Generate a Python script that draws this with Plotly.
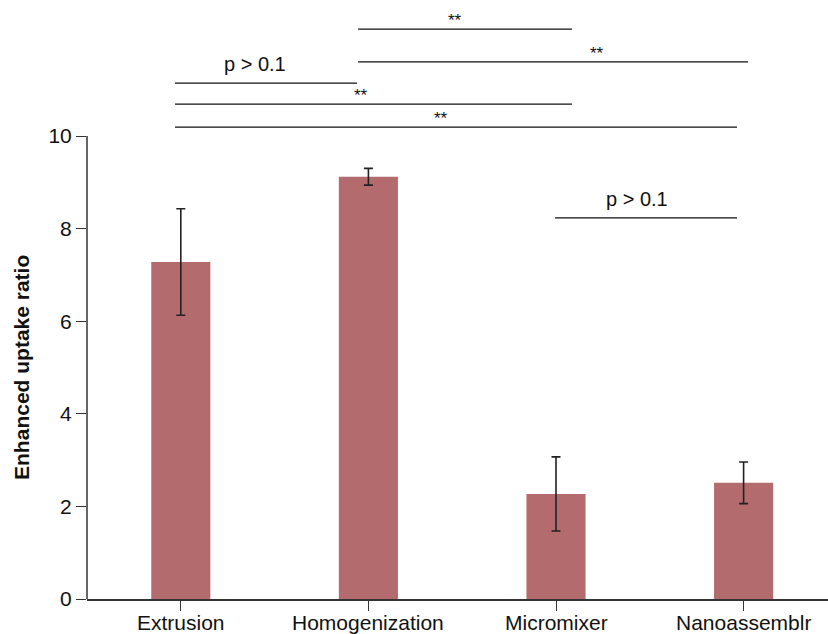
import plotly.graph_objects as go

# Mean enhanced uptake ratio per preparation method, with error
methods = ["Extrusion", "Homogenization", "Micromixer", "Nanoassemblr"]
uptake_ratio = [7.28, 9.12, 2.27, 2.51]
uptake_error = [1.15, 0.18, 0.80, 0.45]

# Pairwise significance comparisons: (x start, x end, level, label)
comparisons = [
    (0.945, 2.085, 12.31, "**"),
    (0.945, 3.024, 11.60, "**"),
    (-0.031, 0.939, 11.14, "p > 0.1"),
    (-0.031, 2.085, 10.69, "**"),
    (-0.031, 2.965, 10.19, "**"),
    (1.995, 2.965, 8.23, "p > 0.1"),
]
# label x positions along each comparison line
label_x = [1.461, 2.218, 0.395, 0.961, 1.387, 2.432]

y_ticks = [0, 2, 4, 6, 8, 10]

FONT = "Liberation Sans, Arial, Helvetica, sans-serif"
BAR_COLOR = "rgb(179,107,110)"
AXIS_COLOR = "#333333"

W, H = 828, 634
M_LEFT, M_BOTTOM = 87, 35
plot_h = H - M_BOTTOM
px_per_unit = 46.3
y_top = plot_h / px_per_unit

fig = go.Figure()

fig.add_trace(go.Bar(
    x=list(range(len(methods))),
    y=uptake_ratio,
    width=0.315,
    marker=dict(color=BAR_COLOR, line=dict(width=0)),
    error_y=dict(type="data", array=uptake_error, visible=True,
                 color="#222222", thickness=1.6, width=4.5),
    showlegend=False,
))

annotations = []
for (x0, x1, level, label), lx in zip(comparisons, label_x):
    fig.add_trace(go.Scatter(
        x=[x0, x1], y=[level, level], mode="lines",
        line=dict(color="#111111", width=1.3),
        hoverinfo="skip", showlegend=False, cliponaxis=False,
    ))
    is_star = label.startswith("*")
    annotations.append(dict(
        x=lx, y=level, text=label, showarrow=False,
        xref="x", yref="y", yanchor="bottom",
        yshift=-3 if is_star else 6,
        font=dict(family=FONT, size=17 if is_star else 20, color="#111111"),
    ))

# category labels under the x axis, set close to the tick marks
for i, name in enumerate(methods):
    annotations.append(dict(
        x=i, y=0, xref="x", yref="paper", text=name, showarrow=False,
        xanchor="center", yanchor="top", yshift=-10,
        font=dict(family=FONT, size=21, color="#111111"),
    ))

# y-axis title
annotations.append(dict(
    text="<b>Enhanced uptake ratio</b>", textangle=-90, showarrow=False,
    xref="paper", x=(22 - M_LEFT) / (W - M_LEFT), xanchor="center",
    yref="y", y=4.99, yanchor="middle",
    font=dict(family=FONT, size=21, color="#111111"),
))

# y-axis line only spanning the tick range
shapes = [dict(type="line", xref="paper", yref="y", x0=0, x1=0, y0=0, y1=10,
               line=dict(color=AXIS_COLOR, width=1.5))]

fig.update_layout(
    width=W, height=H,
    margin=dict(l=M_LEFT, r=0, t=0, b=M_BOTTOM, pad=0, autoexpand=False),
    paper_bgcolor="white", plot_bgcolor="white",
    font=dict(family=FONT, size=20, color="#111111"),
    annotations=annotations, shapes=shapes,
    xaxis=dict(
        range=[-0.5, (W - M_LEFT) / 187.6 - 0.5],
        tickmode="array", tickvals=list(range(len(methods))),
        showticklabels=False,
        ticks="outside", ticklen=10, tickwidth=1.3, tickcolor=AXIS_COLOR,
        showline=True, linecolor=AXIS_COLOR, linewidth=1.5,
        showgrid=False, zeroline=False, automargin=False,
    ),
    yaxis=dict(
        range=[0, y_top],
        tickmode="array", tickvals=y_ticks,
        ticks="outside", ticklen=10, tickwidth=1.3, tickcolor=AXIS_COLOR,
        showline=False, showgrid=False, zeroline=False, automargin=False,
        tickfont=dict(family=FONT, size=21, color="#111111"),
    ),
)

fig.write_html("out.html")
